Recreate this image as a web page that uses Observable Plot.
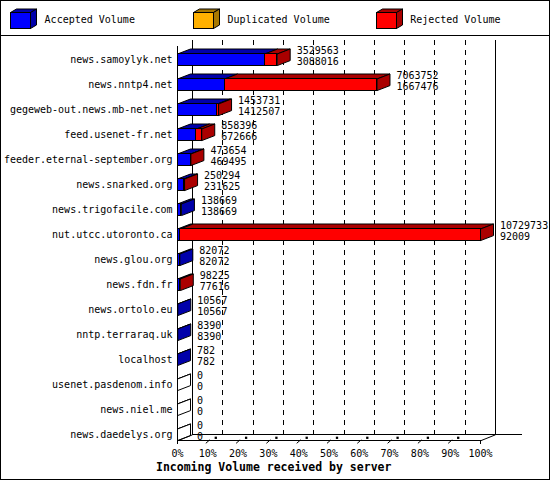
<!DOCTYPE html>
<html><head><meta charset="utf-8">
<script src="https://cdn.jsdelivr.net/npm/d3@7"></script>
<script src="https://cdn.jsdelivr.net/npm/@observablehq/plot@0.6"></script>
<style>
body{margin:0;background:#fff;}
#wrap{position:relative;width:550px;height:480px;background:#fff;overflow:hidden;font-family:"DejaVu Sans Mono",monospace;font-size:10px;color:#000;}
#frame{position:absolute;left:0;top:0;width:550px;height:480px;box-sizing:border-box;border:1px solid #000;pointer-events:none;z-index:5;}
#legend{position:absolute;left:0;top:0;width:550px;height:36px;box-sizing:border-box;border-bottom:1px solid #000;}
#legend .sw{position:absolute;top:6px;}
#legend .lt{position:absolute;top:14px;line-height:12px;white-space:pre;}
#chart{position:absolute;left:0;top:36px;}
#caption{position:absolute;left:156px;top:460px;font-weight:bold;font-size:11.5px;line-height:15px;white-space:pre;z-index:3;}
</style></head>
<body><div id="wrap"><div id="legend"></div><div id="chart"></div><div id="caption"></div><div id="frame"></div></div>
<script>
// ---- data ----
const hosts = ["news.samoylyk.net","news.nntp4.net","gegeweb-out.news.mb-net.net","feed.usenet-fr.net",
  "feeder.eternal-september.org","news.snarked.org","news.trigofacile.com","nut.utcc.utoronto.ca",
  "news.glou.org","news.fdn.fr","news.ortolo.eu","nntp.terraraq.uk","localhost",
  "usenet.pasdenom.info","news.niel.me","news.daedelys.org"];
const totalVolume = [3529563,7063752,1453731,858396,473654,250294,138669,10729733,82072,98225,10567,8390,782,0,0,0];
const acceptedVolume = [3088016,1667476,1412507,672666,469495,231625,138669,92009,82072,77616,10567,8390,782,0,0,0];
const legendNames = ["Accepted Volume","Duplicated Volume","Rejected Volume"];
const legendColors = ["#0000ff","#ffb000","#ff0000"];
const legendShades = ["#0000aa","#a87800","#aa0000"];
const xTickLabels = ["0%","10%","20%","30%","40%","50%","60%","70%","80%","90%","100%"];
const xTitle = "Incoming Volume received by server";

// ---- legend ----
const legend = document.getElementById("legend");
legendNames.forEach((name, k) => {
  const left = 8 + 182.8*k;
  const s = d3.create("svg").attr("class","sw").attr("width",32).attr("height",26)
    .style("left", left + "px");
  s.append("polygon").attr("points","2.5,6.5 22.5,6.5 28.5,3 8.5,3").attr("fill",legendShades[k]).attr("stroke","#000");
  s.append("polygon").attr("points","22.5,6.5 28.5,3 28.5,19 22.5,22.5").attr("fill",legendShades[k]).attr("stroke","#000");
  s.append("rect").attr("x",2.5).attr("y",6.5).attr("width",20).attr("height",16).attr("fill",legendColors[k]).attr("stroke","#000");
  legend.appendChild(s.node());
  const t = document.createElement("div");
  t.className = "lt"; t.textContent = name; t.style.left = (44.6 + 182.8*k) + "px";
  legend.appendChild(t);
});
document.getElementById("caption").textContent = xTitle;

// ---- chart ----
const n = hosts.length;
const maxV = d3.max(totalVolume);
const rows = hosts.map((h, i) => ({i, host: h, total: totalVolume[i], acc: acceptedVolume[i], rej: totalVolume[i] - acceptedVolume[i]}));
const W = 550, H = 444;
const X0 = 177, X1 = 480;          // front 0% and 100% (px)
const Y0 = 23.3, ROW = 25;         // first row center (px), row spacing
const PX = maxV / (X1 - X0);       // value units per pixel
const PY = 1 / ROW;                // row units per pixel
const BAR_H = 11.6;                // bar front height px
const BDX = 13, BDY = 5;           // bar depth px
const ADX = 15, ADY = 6;           // axis depth px
const yFront = (n - 1) + 6 * PY;   // front bottom axis (row units)
const yBackBottom = yFront - ADY * PY;
const yBackTop = (4 - Y0) * PY;
const yFrontTop = yBackTop + ADY * PY;
const hh = BAR_H * PY / 2;

function poly(id, pts) { return pts.concat([pts[0]]).map(([x, y]) => ({id, x, y})); }
const topBlue = [], topRed = [], sideBlue = [], sideRed = [], sideWhite = [];
rows.forEach(r => {
  const yt = r.i - hh, yb = r.i + hh, dx = BDX * PX, dy = BDY * PY;
  topBlue.push(...poly("tb" + r.i, [[0, yt], [r.acc, yt], [r.acc + dx, yt - dy], [dx, yt - dy]]));
  if (r.rej > 0) topRed.push(...poly("tr" + r.i, [[r.acc, yt], [r.total, yt], [r.total + dx, yt - dy], [r.acc + dx, yt - dy]]));
  const side = poly("s" + r.i, [[r.total, yt], [r.total, yb], [r.total + dx, yb - dy], [r.total + dx, yt - dy]]);
  (r.rej > 0 ? sideRed : r.acc > 0 ? sideBlue : sideWhite).push(...side);
});
const tickVals = d3.range(11).map(k => maxV * k / 10);
const lineOpts = (fill) => ({x: "x", y: "y", z: "id", fill, stroke: "#000", strokeWidth: 1, strokeLinejoin: "miter", curve: "linear"});

const chart = Plot.plot({
  width: W, height: H,
  marginLeft: X0, marginRight: W - X1, marginTop: 0, marginBottom: H - (Y0 + yFront * ROW),
  style: {fontFamily: "DejaVu Sans Mono, monospace", fontSize: "10px", background: "transparent", overflow: "visible", color: "#000"},
  x: {domain: [0, maxV], range: [X0, X1], label: null},
  y: {domain: [0, n - 1], range: [Y0, Y0 + (n - 1) * ROW], label: null},
  marks: [
    // back plane
    Plot.ruleX(tickVals.slice(1, 10), {x: d => d, y1: yBackTop, y2: yBackBottom, dx: ADX, stroke: "#000", strokeWidth: 1, strokeDasharray: "5,5", shapeRendering: "crispEdges"}),
    Plot.ruleX([0, maxV], {x: d => d, y1: yBackTop, y2: yBackBottom, dx: ADX, stroke: "#000", strokeWidth: 1, shapeRendering: "crispEdges"}),
    Plot.ruleY([yBackBottom], {x1: 0, x2: maxV + 27 * PX, dx: ADX, stroke: "#000", strokeWidth: 1, shapeRendering: "crispEdges"}),
    // bars: top faces, side faces, front faces
    Plot.line(topBlue, lineOpts("#0000aa")),
    Plot.line(topRed, lineOpts("#aa0000")),
    Plot.line(sideBlue, lineOpts("#0000aa")),
    Plot.line(sideRed, lineOpts("#aa0000")),
    Plot.line(sideWhite, lineOpts("#ffffff")),
    Plot.rect(rows.filter(r => r.acc > 0), {x1: 0, x2: "acc", y1: d => d.i - hh, y2: d => d.i + hh, fill: "#0000ff", stroke: "#000", strokeWidth: 1, shapeRendering: "crispEdges"}),
    Plot.rect(rows.filter(r => r.rej > 0), {x1: "acc", x2: "total", y1: d => d.i - hh, y2: d => d.i + hh, fill: "#ff0000", stroke: "#000", strokeWidth: 1, shapeRendering: "crispEdges"}),
    // front axes
    Plot.ruleX([0], {y1: yFrontTop, y2: yFront, stroke: "#000", strokeWidth: 1, shapeRendering: "crispEdges"}),
    Plot.ruleY([yFront], {x1: 0, x2: maxV, stroke: "#000", strokeWidth: 1, shapeRendering: "crispEdges"}),
    Plot.link([0, maxV], {x1: d => d, y1: yFront, x2: d => d + ADX * PX, y2: yBackBottom, stroke: "#000", strokeWidth: 1}),
    // ticks
    Plot.ruleX([0, maxV], {x: d => d, y1: yFront, y2: yFront + 4 * PY, stroke: "#000", strokeWidth: 1, shapeRendering: "crispEdges"}),
    Plot.link(tickVals.slice(1, 10), {x1: d => d - 2 * PX, y1: yFront + 2.5 * PY, x2: d => d + 2 * PX, y2: yFront - 1 * PY, stroke: "#000", strokeWidth: 1}),
    Plot.dot(tickVals.slice(1, 10), {x: d => d + 8 * PX, y: yFront - 3 * PY, symbol: "square", r: 1.3, fill: "#000", stroke: "none"}),
    // axes labels
    Plot.axisY(d3.range(n), {anchor: "left", tickSize: 0, tickPadding: 5, tickFormat: i => hosts[i], label: null}),
    Plot.axisX(tickVals, {anchor: "bottom", tickSize: 0, tickPadding: 9, tickFormat: d => xTickLabels[Math.round(d / maxV * 10)], label: null}),
    // value labels
    Plot.text(rows, {x: "total", y: "i", text: d => String(d.total), dx: 19.5, dy: -9.3, textAnchor: "start", fill: "#000"}),
    Plot.text(rows, {x: "total", y: "i", text: d => String(d.acc), dx: 19.5, dy: 1.7, textAnchor: "start", fill: "#000"})
  ]
});
document.getElementById("chart").appendChild(chart);
</script>
</body></html>
